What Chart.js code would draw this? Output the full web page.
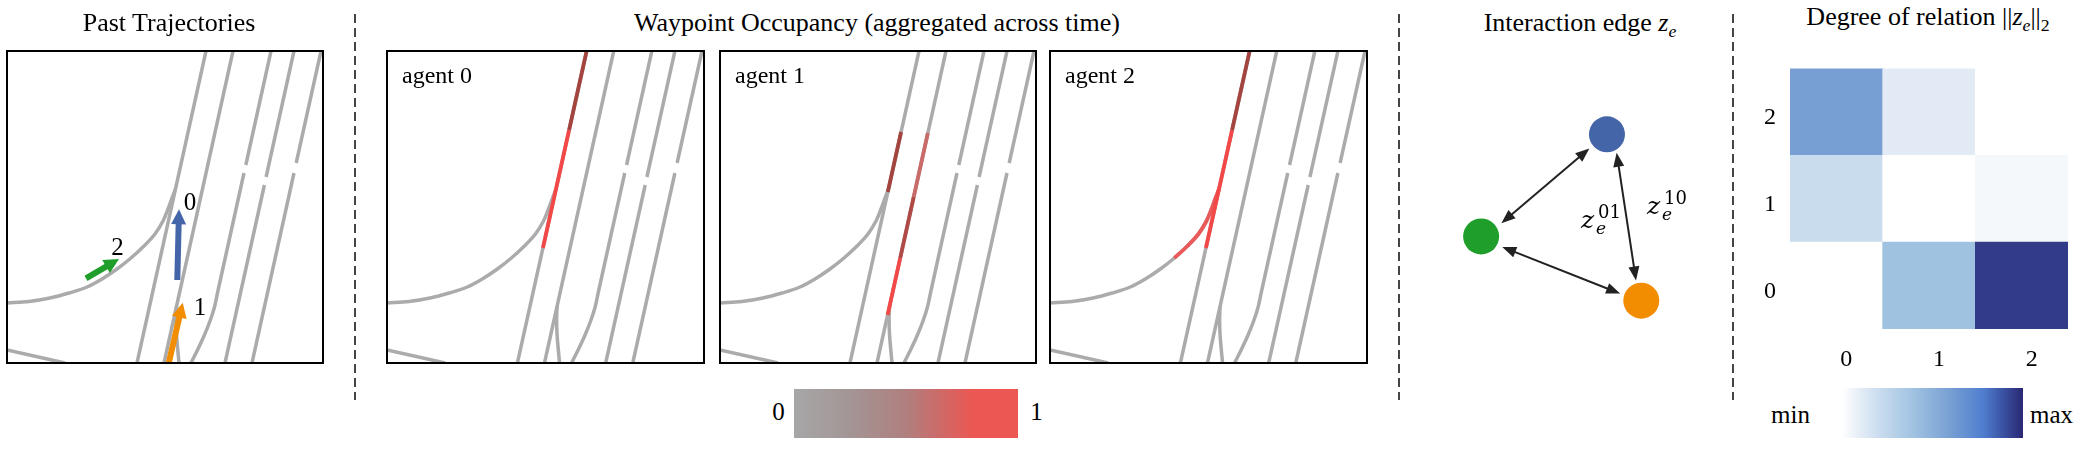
<!DOCTYPE html>
<html><head><meta charset="utf-8">
<script src="https://cdn.jsdelivr.net/npm/chart.js@4.4.1/dist/chart.umd.min.js"></script>
<style>
html,body{margin:0;padding:0;background:#fff;}
body{width:2082px;height:452px;position:relative;overflow:hidden;font-family:"Liberation Serif","Times New Roman",serif;color:#000;}
.box{position:absolute;border:2px solid #000;box-sizing:border-box;background:transparent;}
.txt{position:absolute;white-space:nowrap;line-height:1;}
.txt sub{font-size:0.68em;vertical-align:baseline;position:relative;top:0.32em;line-height:0;}
.dash{position:absolute;width:2px;background:repeating-linear-gradient(to bottom,#454545 0 9px,transparent 9px 14px);}
.cbar{position:absolute;}
</style></head><body>
<script>
// ================= DATA =================
// Map geometry (map units, x to the right, y downward), shared by all map panels
const mapW = 316, mapH = 312;
const laneA      = [[199,0],[130,312]];
const laneB      = [[226,0],[157,312]];
const laneBranch = [[169.6,255],[169.1,268],[169.5,283],[170.7,298],[172,312]];
const laneMerge  = [[0,252],[22,250.5],[43,247],[62,242],[80,236],[95,228],[110,218],[124,207],[137,195],[148,183],[156,170],[161,158],[165,147],[168.5,138]];
const laneD1 = [[264,0],[238.8,114]];
const laneD2 = [[237,122],[210.7,241],[207.5,256],[203,270],[197,285],[190.5,299],[184,312]];
const laneE1 = [[287,0],[259.1,126]];
const laneE2 = [[257.4,134],[218,312]];
const laneF1 = [[314,0],[289.2,112]];
const laneF2 = [[287,122],[245,312]];
const laneLow = [[0,299],[58,312]];

// Waypoint occupancy segments: [lane, yFrom, yTo, level]
const occAgent0 = [['A',0,79,'dark'],['A',79,197,'red']];
const occAgent1 = [['A',81,141,'dark'],['B',82,146,'pink'],['B',146,207,'mid'],['B',207,264,'red']];
const occAgent2 = [['A',0,79,'dark'],['A',79,197,'red'],['M',138,207,'merge']];

// Past trajectories (agent 0, 1, 2): tail and head of heading arrows
const agentIds  = ['0','1','2'];
const arrowTail = [[170.3,229],[161.3,314],[79,227.3]];
const arrowTip  = [[172,158.3],[175.7,251.7],[112,208]];

// Interaction graph (layout units): agent 0, 1, 2
const nodeX = [192,231,49];
const nodeY = [64,253,180];
const edgeEnds = [ [[72,165],[172,80]], [[73,192],[207,245]], [[203,85],[225,230]] ];

// Degree of relation heat map: hmValues[row][col], row 0 at bottom
const hmCols = ['0','1','2'];
const hmRows = ['0','1','2'];
const hmValues = [
  [0.00, 0.40, 0.95],
  [0.21, 0.00, 0.04],
  [0.60, 0.11, 0.00]
];

// ================= STYLES =================
const GRAY = '#ababab';
const levelColor = {dark:'#a3443f', red:'#f24848', pink:'#c96b68', mid:'#b04a47', merge:'#e95a5a'};
const agentColor = ['#4565a9','#f28c00','#1f9e2b'];
const occStops = [[0,'#a7a7a7'],[0.25,'#a39595'],[0.5,'#b07f7f'],[0.66,'#cf6967'],[0.8,'#ec5753'],[1,'#ec5753']];
const relStops = [[0,'#ffffff'],[0.1,'#e4edf6'],[0.2,'#cbddef'],[0.4,'#9fc2e1'],[0.6,'#779fd3'],[0.78,'#4f7ecf'],[0.88,'#3c56a6'],[1,'#2a2773']];
const SERIF = '"Liberation Serif","Times New Roman",serif';

// ================= HELPERS =================
function hex2rgb(h){return [parseInt(h.slice(1,3),16),parseInt(h.slice(3,5),16),parseInt(h.slice(5,7),16)];}
function cmap(stops,t){
  for(let i=0;i<stops.length-1;i++){
    const [t0,c0]=stops[i],[t1,c1]=stops[i+1];
    if(t<=t1){const f=(t-t0)/(t1-t0||1);const a=hex2rgb(c0),b=hex2rgb(c1);
      return 'rgb('+a.map((v,k)=>Math.round(v+(b[k]-v)*f)).join(',')+')';}
  }
  return stops[stops.length-1][1];
}
function gradientCSS(stops){return 'linear-gradient(to right,'+stops.map(s=>s[1]+' '+(s[0]*100)+'%').join(',')+')';}
function makeCanvas(x,y,w,h){
  const c=document.createElement('canvas');c.width=w;c.height=h;
  c.style.cssText='position:absolute;left:'+x+'px;top:'+y+'px;width:'+w+'px;height:'+h+'px;';
  document.body.appendChild(c);return c;
}
function addBox(x,y,w,h){const d=document.createElement('div');d.className='box';
  d.style.left=(x-1)+'px';d.style.top=(y-1)+'px';d.style.width=(w+2)+'px';d.style.height=(h+2)+'px';document.body.appendChild(d);}
function addText(html,x,baseline,size,opt){
  opt=opt||{};
  const d=document.createElement('div');d.className='txt';d.innerHTML=html;
  d.style.fontFamily=opt.family||SERIF;d.style.fontSize=size+'px';
  d.style.top=(baseline-(opt.k||0.8375)*size)+'px';d.style.left=x+'px';
  if(opt.italic)d.style.fontStyle='italic';
  if(opt.align==='center')d.style.transform='translateX(-50%)';
  else if(opt.align==='right')d.style.transform='translateX(-100%)';
  document.body.appendChild(d);
}
function toXY(pts){return pts.map(p=>({x:p[0],y:p[1]}));}
function clipY(pts,y0,y1){
  const out=[];
  const push=p=>{const l=out[out.length-1];if(!l||Math.abs(l[0]-p[0])>1e-6||Math.abs(l[1]-p[1])>1e-6)out.push(p);};
  for(let i=0;i<pts.length-1;i++){
    const [xa,ya]=pts[i],[xb,yb]=pts[i+1];
    const lo=Math.min(ya,yb),hi=Math.max(ya,yb);
    const s=Math.max(lo,y0),e=Math.min(hi,y1);
    if(s>e)continue;
    const f=y=>xa+(xb-xa)*(y-ya)/(yb-ya);
    const a=ya<yb?s:e,b=ya<yb?e:s;
    push([f(a),a]);push([f(b),b]);
  }
  return out;
}
const laneById={A:laneA,B:laneB,M:laneMerge};
const baseLanes=[[laneA,0],[laneB,0],[laneBranch,0.35],[laneMerge,0.35],[laneD1,0],[laneD2,0.35],[laneE1,0],[laneE2,0],[laneF1,0],[laneF2,0],[laneLow,0]];

function arrowsPlugin(items,style){
  return {id:'agentArrows',afterDatasetsDraw(chart){
    const ctx=chart.ctx,sx=chart.scales.x,sy=chart.scales.y,a=chart.chartArea;
    ctx.save();ctx.beginPath();ctx.rect(a.left,a.top,a.right-a.left,a.bottom-a.top);ctx.clip();
    items.forEach(it=>{
      const x0=sx.getPixelForValue(it.tail[0]),y0=sy.getPixelForValue(it.tail[1]);
      const x1=sx.getPixelForValue(it.tip[0]),y1=sy.getPixelForValue(it.tip[1]);
      const L=Math.hypot(x1-x0,y1-y0),ux=(x1-x0)/L,uy=(y1-y0)/L;
      const bx=x1-ux*style.headL,by=y1-uy*style.headL;
      ctx.strokeStyle=it.color;ctx.fillStyle=it.color;ctx.lineWidth=style.shaft;ctx.lineCap='butt';
      ctx.beginPath();ctx.moveTo(x0,y0);ctx.lineTo(bx+ux,by+uy);ctx.stroke();
      ctx.beginPath();ctx.moveTo(x1,y1);ctx.lineTo(bx-uy*style.headW/2,by+ux*style.headW/2);
      ctx.lineTo(bx+uy*style.headW/2,by-ux*style.headW/2);ctx.closePath();ctx.fill();
    });
    ctx.restore();
  }};
}

function mapChart(x,y,w,h,occ,arrows){
  const ds=[];
  baseLanes.forEach(([pts,t])=>ds.push({data:toXY(pts),borderColor:GRAY,borderWidth:3.5,tension:t,order:2}));
  (occ||[]).forEach(([lane,y0,y1,lvl])=>{
    const pts=clipY(laneById[lane],y0,y1);
    ds.push({data:toXY(pts),borderColor:levelColor[lvl],borderWidth:3.8,tension:lane==='M'?0.35:0,order:1});
  });
  ds.forEach(d=>{d.showLine=true;d.pointRadius=0;d.borderCapStyle='butt';d.fill=false;});
  const plugins=[];
  if(arrows)plugins.push(arrowsPlugin(arrows,{shaft:6,headW:15,headL:15}));
  new Chart(makeCanvas(x,y,w,h),{type:'scatter',data:{datasets:ds},plugins,
    options:{responsive:false,animation:false,events:[],layout:{padding:0},
      plugins:{legend:{display:false},tooltip:{enabled:false}},
      scales:{x:{type:'linear',display:false,min:0,max:mapW},y:{type:'linear',display:false,min:0,max:mapH,reverse:true}}}});
  addBox(x,y,w,h);
}

// ================= PANELS =================
// Past trajectories
mapChart(7,51,316,312,null,agentIds.map((id,i)=>({tail:arrowTail[i],tip:arrowTip[i],color:agentColor[i]})));
// Waypoint occupancy
mapChart(387,51,317,312,occAgent0);
mapChart(720,51,316,312,occAgent1);
mapChart(1050,51,317,312,occAgent2);

// Interaction graph
(function(){
  const edgePlugin={id:'edges',beforeDatasetsDraw(chart){
    const ctx=chart.ctx,sx=chart.scales.x,sy=chart.scales.y;
    const headL=14,headW=11;
    ctx.save();ctx.strokeStyle='#222';ctx.fillStyle='#222';ctx.lineWidth=2;
    edgeEnds.forEach(([p,q])=>{
      const x0=sx.getPixelForValue(p[0]),y0=sy.getPixelForValue(p[1]);
      const x1=sx.getPixelForValue(q[0]),y1=sy.getPixelForValue(q[1]);
      const L=Math.hypot(x1-x0,y1-y0),ux=(x1-x0)/L,uy=(y1-y0)/L;
      ctx.beginPath();ctx.moveTo(x0+ux*headL*0.8,y0+uy*headL*0.8);ctx.lineTo(x1-ux*headL*0.8,y1-uy*headL*0.8);ctx.stroke();
      [[x1,y1,ux,uy],[x0,y0,-ux,-uy]].forEach(([tx,ty,dx,dy])=>{
        const bx=tx-dx*headL,by=ty-dy*headL;
        ctx.beginPath();ctx.moveTo(tx,ty);ctx.lineTo(bx-dy*headW/2,by+dx*headW/2);ctx.lineTo(bx+dy*headW/2,by-dx*headW/2);ctx.closePath();ctx.fill();
      });
    });
    ctx.restore();
  }};
  new Chart(makeCanvas(1420,60,300,300),{type:'scatter',
    data:{datasets:[{data:nodeX.map((v,i)=>({x:v,y:nodeY[i]})),backgroundColor:agentColor,pointRadius:18,pointBorderWidth:0,pointHoverRadius:18}]},
    plugins:[edgePlugin],
    options:{responsive:false,animation:false,events:[],layout:{padding:0},
      plugins:{legend:{display:false},tooltip:{enabled:false}},
      scales:{x:{type:'linear',display:false,min:0,max:300},y:{type:'linear',display:false,min:0,max:300,reverse:true}}}});
})();

// Heat map
(function(){
  const font={family:SERIF,size:24};
  new Chart(makeCanvas(1745,40,330,345),{type:'bar',
    data:{labels:hmCols,datasets:hmRows.map((r,ri)=>({label:r,data:hmCols.map(()=>1),
      backgroundColor:hmValues[ri].map(v=>cmap(relStops,v)),borderWidth:0,barPercentage:1,categoryPercentage:1,stack:'s'}))},
    options:{responsive:false,animation:false,events:[],layout:{padding:{left:0,top:10,right:7,bottom:0}},
      plugins:{legend:{display:false},tooltip:{enabled:false}},
      scales:{
        x:{stacked:true,grid:{display:false,drawTicks:false},border:{display:false},
           ticks:{font,color:'#000',padding:16,labelOffset:10,maxRotation:0},afterFit(s){s.height=56;}},
        y:{type:'linear',stacked:true,min:0,max:3,grid:{display:false,drawTicks:false},border:{display:false},
           ticks:{font,color:'#000',padding:14,labelOffset:6,callback:v=>hmRows[Math.floor(v)]},
           afterBuildTicks(s){s.ticks=[0.5,1.5,2.5].map(v=>({value:v}));},afterFit(s){s.width=45;}}
      }}});
})();

// Colour bars
(function(){
  const a=document.createElement('div');a.className='cbar';
  a.style.cssText+='left:794px;top:389px;width:224px;height:49px;background:'+gradientCSS(occStops)+';';
  document.body.appendChild(a);
  const b=document.createElement('div');b.className='cbar';
  b.style.cssText+='left:1842px;top:388px;width:181px;height:50px;background:'+gradientCSS(relStops)+';';
  document.body.appendChild(b);
})();

// Separators
[354,1398,1732].forEach(x=>{const d=document.createElement('div');d.className='dash';
  d.style.left=x+'px';d.style.top='14px';d.style.height='386px';document.body.appendChild(d);});

// ================= TEXT =================
addText('Past Trajectories',169,32,26,{align:'center'});
addText('Waypoint Occupancy (aggregated across time)',877,32,26,{align:'center'});
addText('Interaction edge <i>z</i><sub><i>e</i></sub>',1580,32,26,{align:'center'});
addText('Degree of relation ||<i>z</i><sub><i>e</i></sub>||<sub>2</sub>',1928,26,26,{align:'center'});
addText('agent 0',402,83,24);
addText('agent 1',735,83,24);
addText('agent 2',1065,83,24);
addText(agentIds[0],190,210,25,{align:'center'});
addText(agentIds[1],200,315,25,{align:'center'});
addText(agentIds[2],117.5,255,25,{align:'center'});
addText('0',778.5,420,25,{align:'center'});
addText('1',1036.5,420,25,{align:'center'});
addText('min',1810,423,25,{align:'right'});
addText('max',2030,423,25);
// edge labels z_e^{01}, z_e^{10}
const DV='"DejaVu Serif",serif';
addText('z',1581,228,25,{family:DV,italic:true,k:0.846});
addText('01',1598,218,18,{family:DV,k:0.846});
addText('e',1596,234,17,{family:DV,italic:true,k:0.846});
addText('z',1647,214,25,{family:DV,italic:true,k:0.846});
addText('10',1664,204,18,{family:DV,k:0.846});
addText('e',1662,220,17,{family:DV,italic:true,k:0.846});
</script>
</body></html>
